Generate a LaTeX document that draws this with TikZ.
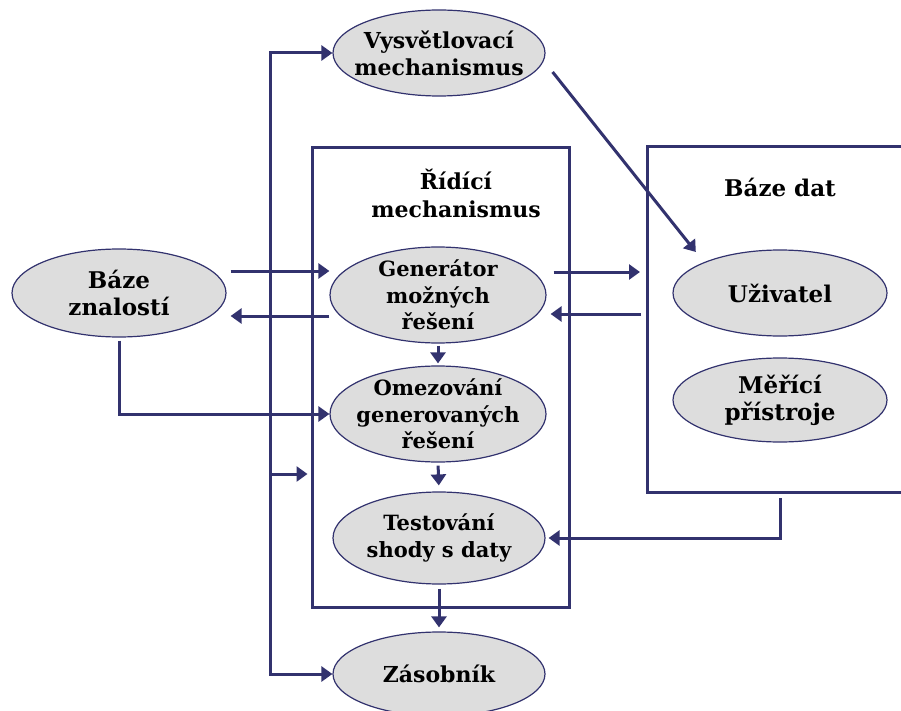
\documentclass[tikz,border=0pt]{standalone}
\usepackage{fontspec}
\setmainfont{DejaVu Serif}
\usetikzlibrary{shapes.geometric,arrows.meta,calc}
\definecolor{navy}{RGB}{50,50,110}
\definecolor{ellfill}{RGB}{221,221,221}
\begin{document}
\begin{tikzpicture}[x=1pt,y=-1pt,
  ell/.style={ellipse, draw=navy, line width=1.2pt, fill=ellfill, inner sep=0pt,
    minimum width=214pt, minimum height=88pt},
  etxt/.style={align=center, inner sep=0pt, font=\bfseries\fontsize{22}{27}\selectfont},
  small/.style={font=\bfseries\fontsize{21}{26.5}\selectfont},
  big/.style={font=\bfseries\fontsize{23}{27}\selectfont},
  arr/.style={draw=navy, line width=3pt, -{Triangle[length=11pt,width=15pt]}},
  ln/.style={draw=navy, line width=3pt},
  lbl/.style={align=center, inner sep=0pt, font=\bfseries\fontsize{22}{28}\selectfont}]
\useasboundingbox (0,0) rectangle (901,711);
% boxes
\node[ln, minimum width=257pt, minimum height=459pt, inner sep=0pt] (rid) at (440.5,377.5) {};
\node[lbl] (ridt) at (456,193) {Řídící\\mechanismus};
\coordinate (bdNW) at (647,147);
\coordinate (bdSW) at (647,492);
\draw[ln] (901,147) -- (bdNW) -- (bdSW) -- (901,492);
\node[lbl, big] (bdt) at (780,187) {Báze dat};
% ellipses
\node[ell, minimum width=212pt, minimum height=86pt] (vys) at (439,53) {};
\node[etxt] (vysT) at (vys.center) {Vysvětlovací\\mechanismus};
\node[ell] (bz) at (119,293) {};
\node[etxt, big] (bzT) at (bz.center) {Báze\\znalostí};
\node[ell, minimum width=216pt, minimum height=96pt] (gen) at (438,295) {};
\node[etxt, small] (genT) at (gen.center) {Generátor\\možných\\řešení};
\node[ell, minimum width=216pt, minimum height=96pt] (omz) at (438,414) {};
\node[etxt, small] (omzT) at (omz.center) {Omezování\\generovaných\\řešení};
\node[ell, minimum width=212pt, minimum height=92pt] (tst) at (439,538) {};
\node[etxt, small] (tstT) at (tst.center) {Testování\\shody s daty};
\node[ell, minimum width=212pt, minimum height=84pt] (zas) at (439,674) {};
\node[etxt] (zasT) at (zas.center) {Zásobník};
\node[ell, minimum height=86pt] (uziv) at (780,293) {};
\node[etxt, big] (uzivT) at (uziv.center) {Uživatel};
\node[ell, minimum height=84pt] (mer) at (780,400) {};
\node[etxt, big] (merT) at (mer.center) {Měřící\\přístroje};
% trunk on the left
\coordinate (tr) at (270,474);
\draw[arr] (tr) |- (vys.west);
\draw[arr] (tr) |- (zas.west);
\draw[arr, shorten >=3pt] (tr) -- (tr -| rid.west);
% knowledge base
\draw[arr] ($(bz.east)+(4,-22)$) coordinate (a1) -- (a1 -| gen.west);
\draw[arr, shorten >=4pt] ($(gen.west)+(0,21)$) coordinate (a2) -- (a2 -| bz.east);
\draw[arr] ([yshift=-3pt]bz.south) |- (omz.west);
% chain
\draw[arr, shorten <=2pt, shorten >=2pt] (gen.south) -- (omz.north);
\draw[arr, shorten <=3pt, shorten >=6pt] (omz.south) -- (tst.north);
\draw[arr, shorten <=4pt, shorten >=4pt] (tst.south) -- (zas.north);
% data base
\draw[arr, shorten >=7pt] ($(gen.east)+(7,-23)$) coordinate (a3) -- (a3 -| bdNW);
\draw[arr, shorten >=4pt] ($(bdNW)+(-6,167)$) coordinate (a4) -- (a4 -| gen.east);
\draw[arr, shorten >=3pt] ($(uziv |- bdSW)+(0,6)$) |- (tst.east);
% explanation
\draw[arr, shorten >=13pt] ($(vys.east)+(7,19)$) -- (uziv.north west);
\end{tikzpicture}
\end{document}
